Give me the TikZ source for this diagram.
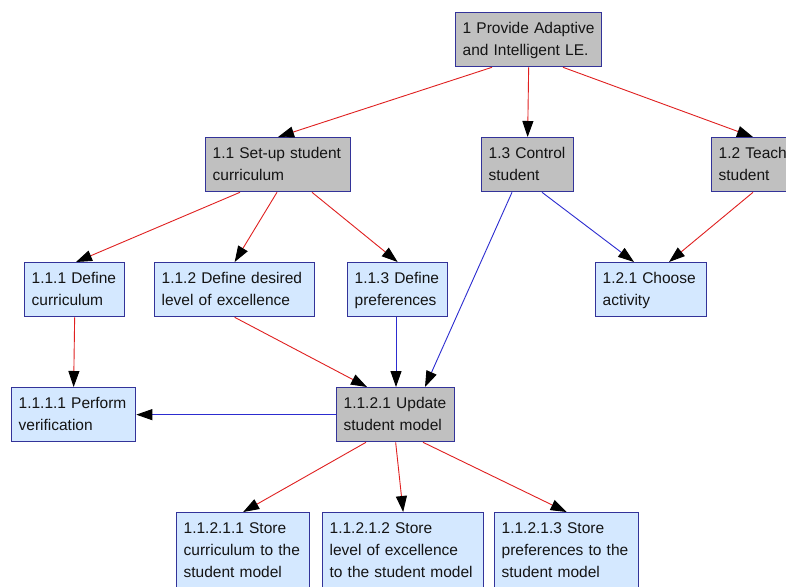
\documentclass[tikz,border=0pt]{standalone}
\usepackage{fontspec}
\setmainfont{Liberation Sans}
\usetikzlibrary{arrows.meta}
\definecolor{boxgray}{HTML}{C0C0C0}
\definecolor{boxblue}{HTML}{D4E8FF}
\definecolor{boxline}{HTML}{333399}
\definecolor{linkred}{HTML}{E02020}
\definecolor{linkblue}{HTML}{2C2CD0}
\newcommand\boxtext[1]{\begin{tabular}{@{}l@{}}#1\end{tabular}}
\begin{document}
\begin{tikzpicture}[x=1pt,y=-1pt,
  basebox/.style={draw=boxline, line width=1.3pt, anchor=north west,
    minimum height=54pt, inner xsep=7pt, inner ysep=0pt, align=left,
    font=\fontsize{15.5}{22}\selectfont, text=black!92},
  graybox/.style={basebox, fill=boxgray},
  bluebox/.style={basebox, fill=boxblue},
  bluebox3/.style={bluebox, minimum height=76pt},
  redlink/.style={draw=linkred, line width=0.9pt,
    -{Triangle[length=16pt,width=11pt,color=black]}},
  bluelink/.style={draw=linkblue, line width=0.9pt,
    -{Triangle[length=16pt,width=11pt,color=black]}}
]
\useasboundingbox (0,0) rectangle (786,586);
\fill[white] (0,0) rectangle (786,586);
\clip (0,0) rectangle (786,586);

% nodes
\node[graybox, text width=132pt] (n1) at (455,12) {\boxtext{1 Provide Adaptive\\and Intelligent LE.}};
\node[graybox, text width=131pt] (n11) at (205,137) {\boxtext{1.1 Set-up student\\curriculum}};
\node[graybox, text width=78pt] (n13) at (481,137) {\boxtext{1.3 Control\\student}};
\node[graybox, text width=78pt] (n12) at (711,137) {\boxtext{1.2 Teach\\student}};
\node[bluebox, text width=86pt] (n111) at (24,262) {\boxtext{1.1.1 Define\\curriculum}};
\node[bluebox, text width=146pt] (n112) at (154,262) {\boxtext{1.1.2 Define desired\\level of excellence}};
\node[bluebox, text width=86pt] (n113) at (347,262) {\boxtext{1.1.3 Define\\preferences}};
\node[bluebox, text width=97pt] (n121) at (595,262) {\boxtext{1.2.1 Choose\\activity}};
\node[bluebox, text width=110pt] (n1111) at (11,387) {\boxtext{1.1.1.1 Perform\\verification}};
\node[graybox, text width=104pt] (n1121) at (336,387) {\boxtext{1.1.2.1 Update\\student model}};
\node[bluebox3, text width=119pt] (n11211) at (176,512) {\boxtext{1.1.2.1.1 Store\\curriculum to the\\student model}};
\node[bluebox3, text width=147pt] (n11212) at (322,512) {\boxtext{1.1.2.1.2 Store\\level of excellence\\to the student model}};
\node[bluebox3, text width=130pt] (n11213) at (494,512) {\boxtext{1.1.2.1.3 Store\\preferences to the\\student model}};

% connectors
\draw[redlink] ([xshift=37pt]n1.south west) -- ([xshift=73pt]n11.north west);
\draw[redlink] (n1.south) -- (n13.north);
\draw[redlink] ([xshift=108pt]n1.south west) -- ([xshift=42pt]n12.north west);
\draw[redlink] ([xshift=35pt]n11.south west) -- ([xshift=52pt]n111.north west);
\draw[redlink] ([xshift=72pt]n11.south west) -- (n112.north);
\draw[redlink] ([xshift=107pt]n11.south west) -- (n113.north);
\draw[bluelink] ([xshift=31pt]n13.south west) -- ([xshift=89pt]n1121.north west);
\draw[bluelink] ([xshift=61pt]n13.south west) -- ([xshift=39pt]n121.north west);
\draw[redlink] ([xshift=42pt]n12.south west) -- ([xshift=74pt]n121.north west);
\draw[redlink] (n111.south) -- (n1111.north);
\draw[redlink] (n112.south) -- ([xshift=31pt]n1121.north west);
\draw[bluelink] ([xshift=49pt]n113.south west) -- ([xshift=60pt]n1121.north west);
\draw[bluelink] (n1121.west) -- (n1111.east);
\draw[redlink] ([xshift=30pt]n1121.south west) -- (n11211.north);
\draw[redlink] (n1121.south) -- (n11212.north);
\draw[redlink] ([xshift=87pt]n1121.south west) -- (n11213.north);
\end{tikzpicture}
\end{document}
